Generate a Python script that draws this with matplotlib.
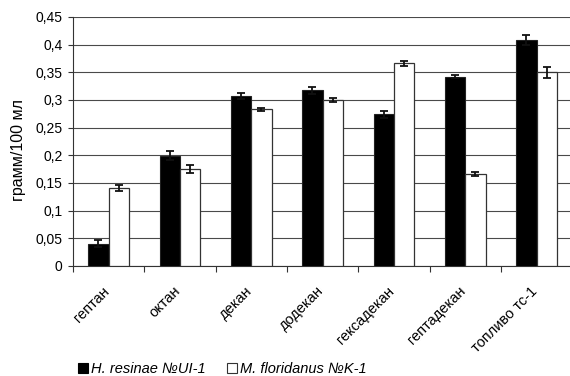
import numpy as np
import matplotlib.pyplot as plt
from matplotlib.patches import Patch

plt.rcParams['font.family'] = ['Liberation Sans', 'DejaVu Sans']

# Data
categories = ['гептан', 'октан', 'декан', 'додекан', 'гексадекан', 'гептадекан', 'топливо тс-1']
h_resinae = [0.040, 0.199, 0.307, 0.317, 0.274, 0.342, 0.409]
h_resinae_err = [0.006, 0.008, 0.005, 0.006, 0.006, 0.003, 0.009]
m_floridanus = [0.141, 0.175, 0.283, 0.300, 0.366, 0.166, 0.350]
m_floridanus_err = [0.006, 0.007, 0.003, 0.004, 0.005, 0.003, 0.010]
yticks = [0, 0.05, 0.1, 0.15, 0.2, 0.25, 0.3, 0.35, 0.4, 0.45]
ytick_labels = ['0', '0,05', '0,1', '0,15', '0,2', '0,25', '0,3', '0,35', '0,4', '0,45']

fig = plt.figure(figsize=(5.7, 3.76), dpi=100)
ax = fig.add_axes([0.128, 0.293, 0.876, 0.662])

x = np.arange(len(categories)) + 0.5
w = 0.285

ax.bar(x - w / 2, h_resinae, w, color='black', edgecolor='#222222', linewidth=0.8, zorder=3)
ax.bar(x + w / 2, m_floridanus, w, color='white', edgecolor='#333333', linewidth=0.9, zorder=3)
ax.errorbar(x - w / 2, h_resinae, yerr=h_resinae_err, fmt='none', ecolor='#111111',
            elinewidth=1.3, capsize=3, capthick=1.3, zorder=4)
ax.errorbar(x + w / 2, m_floridanus, yerr=m_floridanus_err, fmt='none', ecolor='#111111',
            elinewidth=1.3, capsize=3, capthick=1.3, zorder=4)

ax.set_xlim(0, len(categories))
ax.set_ylim(0, 0.45)
ax.set_yticks(yticks)
ax.set_yticklabels(ytick_labels, fontsize=10)

# labels at category centers, tick marks at boundaries
ax.set_xticks(x + 0.05)
ax.set_xticklabels(categories, rotation=45, ha='right', va='top', fontsize=10.5)
ax.tick_params(axis='x', which='major', length=0, pad=13)
ax.set_xticks(np.arange(len(categories) + 1), minor=True)
ax.tick_params(axis='x', which='minor', length=4.5, color='#333333', width=0.8)
ax.tick_params(axis='y', length=3.5, color='#333333', width=0.8, pad=4)

ax.yaxis.grid(True, color='#4a4a4a', linewidth=0.8, zorder=0)
ax.set_axisbelow(True)
for side in ['top', 'right']:
    ax.spines[side].set_visible(False)
for side in ['left', 'bottom']:
    ax.spines[side].set_color('#333333')
    ax.spines[side].set_linewidth(0.8)

ax.set_ylabel('грамм/100 мл', fontsize=11.5)
ax.yaxis.set_label_coords(-0.095, 0.466)

handles = [Patch(facecolor='black', edgecolor='black', linewidth=0.8),
           Patch(facecolor='white', edgecolor='#333333', linewidth=0.8)]
fig.legend(handles, ['H. resinae №UI-1', 'M. floridanus №K-1'],
           loc='center left', bbox_to_anchor=(0.127, 0.018), ncol=2, frameon=False,
           prop={'style': 'italic', 'size': 10.5}, handlelength=0.65, handleheight=0.65,
           handletextpad=0.2, columnspacing=1.5, borderaxespad=0)

fig.savefig('out.png', dpi=100)
